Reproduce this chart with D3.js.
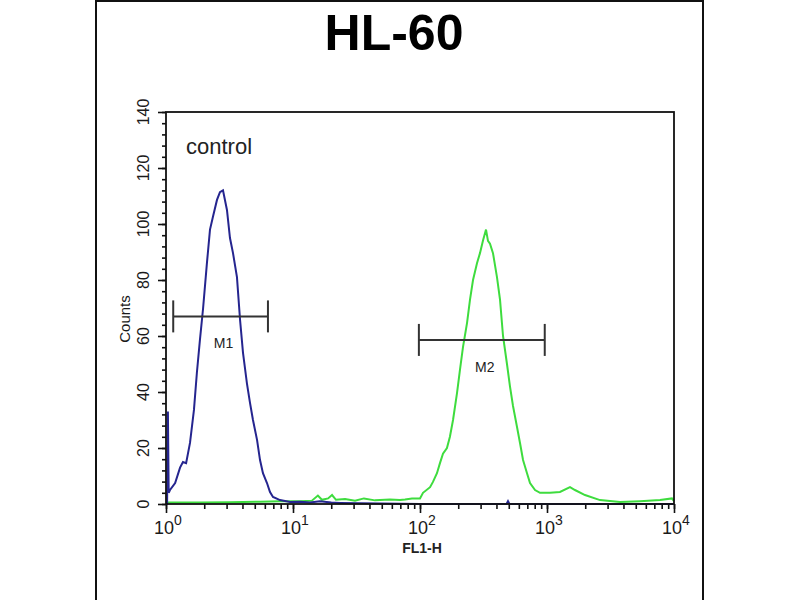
<!DOCTYPE html>
<html>
<head>
<meta charset="utf-8">
<script src="https://cdn.jsdelivr.net/npm/d3@7"></script>
<style>
  body { margin: 0; background: #fff; }
  svg { font-family: Arial, "Liberation Sans", sans-serif; }
</style>
</head>
<body>
<div id="chart"></div>
<script>
// histogram values (FL1-H channel value, counts)
var controlFL = [1.0, 1.02, 1.035, 1.05, 1.075, 1.18, 1.29, 1.36, 1.44, 1.545, 1.66, 1.75, 1.85, 1.96, 2.10, 2.22, 2.34, 2.52, 2.66, 2.81,
  3.02, 3.19, 3.37, 3.62, 3.83, 4.04, 4.34, 4.59, 4.84, 5.21, 5.50, 5.80, 6.24, 6.59, 6.96, 7.90, 9.47, 11.4, 13.6, 16.3,
  20, 23.5, 33.6, 48.5, 100, 480, 493, 506, 1000, 10000];
var controlCounts = [0, 0, 33, 4, 5, 7.5, 13, 15, 14.6, 21.8, 33.6, 46.8, 58.6, 70, 86, 98, 102.5, 108.6, 111.4, 112,
  105, 95, 89.6, 81, 65.7, 54, 43, 36, 30, 22.9, 15.7, 11, 7.5, 4.3, 2.5, 1.4, 0.7, 0.8, 0.5, 1,
  0.5, 0.4, 0.3, 0.2, 0, 0, 1, 0, 0, 0];

var sampleFL = [1.0, 1.075, 1.85, 3.19, 5.5, 7.9, 11.4, 14.1, 15.7, 16.9, 18.9, 20.3, 21.8, 25.7, 30.8, 36.2, 44.2, 58, 69.6, 76.2,
  86.5, 100, 105.6, 120, 126.5, 136, 143.6, 151.7, 163, 172, 182, 195.6, 206.5, 218, 234.5, 247.6, 261.5, 281, 296.7, 313,
  331, 343, 355.7, 375.6, 403.7, 426.6, 450.5, 484, 511, 540, 580.6, 613, 647.7, 696, 735, 805, 881, 1057, 1265, 1518,
  1660, 1991, 2614, 3758, 5400, 7760, 9640, 10000];
var sampleCounts = [0.5, 0.5, 0.5, 0.6, 0.8, 1, 1, 1.2, 3, 1.5, 2, 3.2, 1.5, 1.8, 1.2, 2, 1.3, 1.6, 1.4, 1.6,
  2, 2, 4, 6, 7.9, 11, 14.6, 18, 20, 24, 30, 39.6, 48, 56, 64.6, 73, 80, 86, 89.6, 94,
  98, 94, 93, 89.6, 81, 73, 60, 50, 42, 35, 27.5, 21.8, 15.7, 11, 7.5, 5, 4, 4, 4.3, 6,
  5, 3.2, 1.4, 0.7, 1, 1.4, 2, 1];

// gates
var markerNames = ["M1", "M2"];
var markerStart = [1.14, 98];
var markerEnd = [6.35, 960];
var markerLevel = [67, 58.6];

var yTicks = [0, 20, 40, 60, 80, 100, 120, 140];
var xDecades = [0, 1, 2, 3, 4];

var margin = {top: 112, right: 126, bottom: 96, left: 166},
    width = 800 - margin.left - margin.right,
    height = 600 - margin.top - margin.bottom;

var svg = d3.select("#chart")
  .append("svg")
    .attr("width", 800)
    .attr("height", 600);

// outer frame of the figure
svg.append("rect")
    .attr("x", 96)
    .attr("y", 1)
    .attr("width", 607)
    .attr("height", 640)
    .attr("fill", "none")
    .attr("stroke", "#111")
    .attr("stroke-width", 2);

svg.append("text")
    .attr("x", 394)
    .attr("y", 50)
    .attr("text-anchor", "middle")
    .style("font-size", "50px")
    .style("font-weight", "bold")
    .text("HL-60");

var g = svg.append("g")
    .attr("transform", "translate(" + margin.left + "," + margin.top + ")");

var x = d3.scaleLog()
  .domain([1, 10000])
  .range([0, width]);

var y = d3.scaleLinear()
  .domain([0, 140])
  .range([height, 0]);

// minor and major ticks, Y
g.append("g")
    .attr("class", "axis")
    .call(d3.axisLeft(y).tickValues(d3.range(0, 141, 4)).tickSize(4).tickFormat(""));
g.append("g")
    .attr("class", "axis")
    .call(d3.axisLeft(y).tickValues(yTicks).tickSize(8).tickFormat(""));

// minor and major ticks, X
g.append("g")
    .attr("class", "axis")
    .attr("transform", "translate(0," + height + ")")
    .call(d3.axisBottom(x).tickValues(x.ticks()).tickSize(5).tickFormat(""));
g.append("g")
    .attr("class", "axis")
    .attr("transform", "translate(0," + height + ")")
    .call(d3.axisBottom(x).tickValues(xDecades.map(function (e) { return Math.pow(10, e); })).tickSize(9).tickFormat(""));

g.selectAll(".axis path").remove();
g.selectAll(".axis line").attr("stroke", "#111").attr("stroke-width", 1.6);

// y labels, rotated
g.selectAll(".ylab")
  .data(yTicks)
  .enter().append("text")
    .attr("class", "ylab")
    .attr("transform", function (d) { return "translate(-17," + y(d) + ") rotate(-90)"; })
    .attr("text-anchor", "middle")
    .style("font-size", "16px")
    .style("fill", "#1a1a1a")
    .text(function (d) { return d; });

// x labels, 10 with exponent
var xl = g.selectAll(".xlab")
  .data(xDecades)
  .enter().append("text")
    .attr("class", "xlab")
    .attr("x", function (d) { return x(Math.pow(10, d)) + 2; })
    .attr("y", height + 30)
    .attr("text-anchor", "middle")
    .style("font-size", "18px")
    .style("fill", "#1a1a1a");
xl.append("tspan").text("10");
xl.append("tspan")
    .attr("dy", -9)
    .style("font-size", "14px")
    .text(function (d) { return d; });

g.append("text")
    .attr("transform", "translate(-36," + (height / 2 + 11) + ") rotate(-90)")
    .attr("text-anchor", "middle")
    .style("font-size", "15px")
    .style("fill", "#1a1a1a")
    .text("Counts");

g.append("text")
    .attr("x", width / 2 + 2)
    .attr("y", height + 49)
    .attr("text-anchor", "middle")
    .style("font-size", "14px")
    .style("font-weight", "bold")
    .style("fill", "#222")
    .text("FL1-H");

// histograms
var line = d3.line()
  .x(function (d) { return x(d[0]); })
  .y(function (d) { return y(d[1]); });

g.append("path")
    .datum(d3.zip(sampleFL, sampleCounts))
    .attr("fill", "none")
    .attr("stroke", "#3edc3e")
    .attr("stroke-width", 2)
    .attr("d", line);

g.append("path")
    .datum(d3.zip(controlFL, controlCounts))
    .attr("fill", "none")
    .attr("stroke", "#25258f")
    .attr("stroke-width", 2)
    .attr("d", line);

// plot box
g.append("rect")
    .attr("width", width)
    .attr("height", height)
    .attr("fill", "none")
    .attr("stroke", "#111")
    .attr("stroke-width", 1.8);

// gate markers
var gates = d3.range(markerNames.length).map(function (i) {
  return {name: markerNames[i], a: markerStart[i], b: markerEnd[i], v: markerLevel[i]};
});
var gate = g.selectAll(".gate")
  .data(gates)
  .enter().append("g")
    .attr("class", "gate");
gate.append("line")
    .attr("x1", function (d) { return x(d.a); })
    .attr("x2", function (d) { return x(d.b); })
    .attr("y1", function (d) { return y(d.v); })
    .attr("y2", function (d) { return y(d.v); });
gate.append("line")
    .attr("x1", function (d) { return x(d.a); })
    .attr("x2", function (d) { return x(d.a); })
    .attr("y1", function (d) { return y(d.v) - 16; })
    .attr("y2", function (d) { return y(d.v) + 16; });
gate.append("line")
    .attr("x1", function (d) { return x(d.b); })
    .attr("x2", function (d) { return x(d.b); })
    .attr("y1", function (d) { return y(d.v) - 16; })
    .attr("y2", function (d) { return y(d.v) + 16; });
gate.selectAll("line")
    .attr("stroke", "#333")
    .attr("stroke-width", 2);
gate.append("text")
    .attr("x", function (d) { return x(Math.sqrt(d.a * d.b)) + 3; })
    .attr("y", function (d) { return y(d.v) + 32; })
    .attr("text-anchor", "middle")
    .style("font-size", "14px")
    .style("fill", "#222")
    .text(function (d) { return d.name; });

g.append("text")
    .attr("x", 20)
    .attr("y", 42)
    .style("font-size", "22px")
    .style("fill", "#222")
    .text("control");
</script>
</body>
</html>
